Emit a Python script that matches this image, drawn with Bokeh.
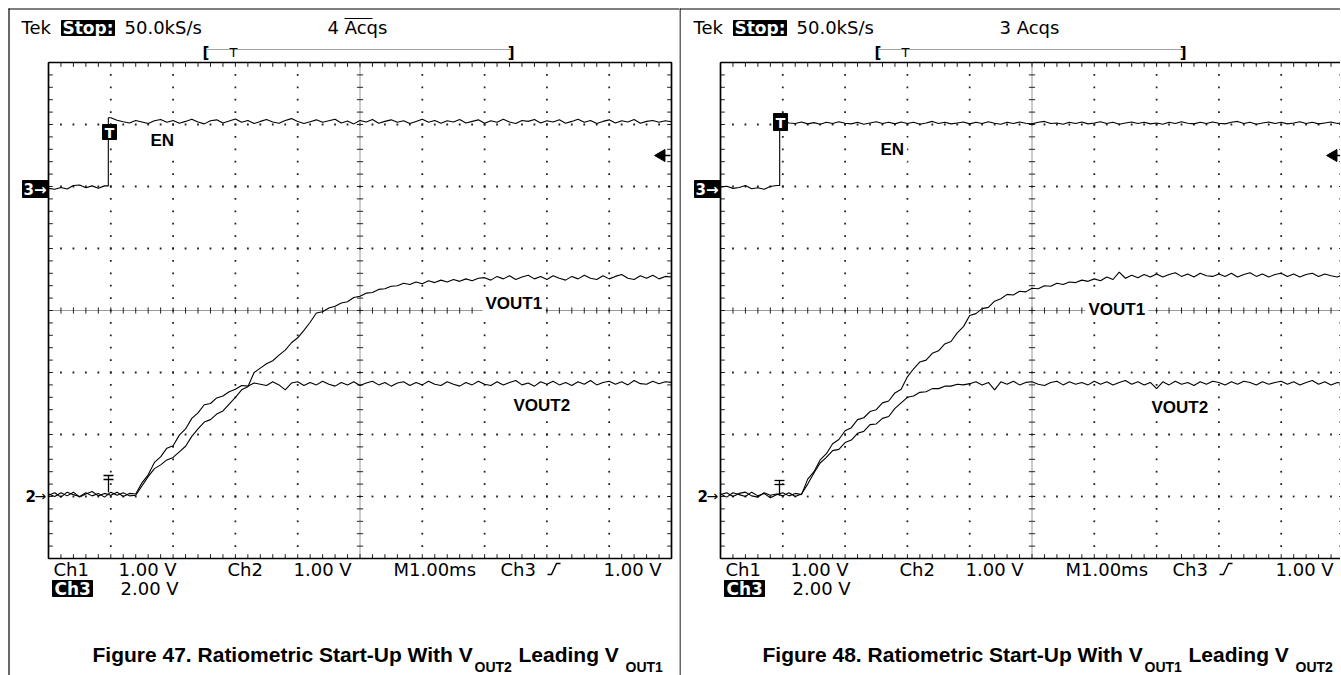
import numpy as np
from bokeh.plotting import figure
from bokeh.models import Range1d, Label
from bokeh.layouts import row
from bokeh.embed import file_html
from bokeh.resources import INLINE

# ---------------- data ----------------
# horizontal: 10 divisions x 1.00 ms/div, samples every 0.1 ms
time_ms = [round(0.1 * i, 1) for i in range(101)]

# vertical settings shown on the scope
ch12_volts_per_div = 1.0      # Ch1 / Ch2 (VOUT1 / VOUT2)
ch3_volts_per_div = 2.0       # Ch3 (EN)
ch12_ground_div = -2.98       # "2->" marker
ch3_ground_div = 2.0          # "3->" marker
ch3_trigger_level_v = 1.0     # "Ch3 _/ 1.00 V"

# ---- Figure 47 : VOUT2 leading VOUT1 ----
fig47_en_step_ms = 0.96
fig47_en_low = [-0.06, -0.09, -0.03, -0.08, 0.03, 0.05, -0.04, 0.02, -0.06, 0.02]
fig47_en_high = [
    2.22, 2.14, 2.09, 2.05, 2.13, 2.08, 2.03, 2.12, 2.16, 2.07,
    2.13, 2.04, 2.10, 2.17, 2.08, 2.02, 2.12, 2.15, 2.05, 2.11,
    2.18, 2.07, 2.13, 2.03, 2.10, 2.16, 2.08, 2.04, 2.13, 2.19,
    2.10, 2.03, 2.09, 2.15, 2.07, 2.12, 2.17, 2.05, 2.11, 2.02,
    2.13, 2.08, 2.16, 2.04, 2.10, 2.15, 2.07, 2.12, 2.03, 2.10,
    2.17, 2.07, 2.13, 2.04, 2.12, 2.08, 2.16, 2.05, 2.10, 2.15,
    2.04, 2.12, 2.07, 2.17, 2.08, 2.03, 2.13, 2.10, 2.16, 2.05,
    2.12, 2.08, 2.15, 2.04, 2.10, 2.17, 2.07, 2.13, 2.03, 2.10,
    2.15, 2.05, 2.12, 2.08, 2.16, 2.04, 2.10, 2.13, 2.07, 2.12, 2.09]
fig47_vout1 = [
    0.00, 0.04, -0.03, 0.05, 0.01, -0.02, 0.04, -0.01, 0.03, -0.03,
    0.05, 0.00, 0.04, -0.01, 0.00, 0.15, 0.30, 0.43, 0.49, 0.57,
    0.61, 0.70, 0.79, 0.95, 1.07, 1.18, 1.22, 1.31, 1.36, 1.47,
    1.58, 1.70, 1.75, 1.98, 2.05, 2.12, 2.17, 2.26, 2.34, 2.46,
    2.54, 2.66, 2.79, 2.94, 2.96, 3.02, 3.05, 3.10, 3.12, 3.19,
    3.21, 3.26, 3.27, 3.32, 3.33, 3.37, 3.38, 3.42, 3.40, 3.44,
    3.41, 3.46, 3.43, 3.47, 3.44, 3.48, 3.45, 3.49, 3.46, 3.50,
    3.51, 3.47, 3.53, 3.49, 3.54, 3.48, 3.52, 3.55, 3.49, 3.53,
    3.48, 3.54, 3.50, 3.47, 3.53, 3.49, 3.55, 3.50, 3.48, 3.54,
    3.49, 3.53, 3.56, 3.50, 3.48, 3.54, 3.50, 3.55, 3.49, 3.53, 3.52]
fig47_vout2 = [
    0.02, -0.02, 0.04, -0.01, 0.05, -0.03, 0.02, 0.06, -0.01, 0.03,
    0.00, 0.05, -0.02, 0.03, 0.02, 0.20, 0.33, 0.53, 0.62, 0.76,
    0.80, 0.97, 1.07, 1.24, 1.33, 1.46, 1.48, 1.57, 1.60, 1.67,
    1.71, 1.77, 1.76, 1.81, 1.79, 1.77, 1.83, 1.78, 1.70, 1.81,
    1.83, 1.77, 1.82, 1.78, 1.84, 1.79, 1.76, 1.82, 1.78, 1.83,
    1.77, 1.81, 1.84, 1.78, 1.82, 1.76, 1.81, 1.83, 1.77, 1.82,
    1.78, 1.84, 1.79, 1.77, 1.83, 1.79, 1.76, 1.82, 1.78, 1.84,
    1.79, 1.77, 1.83, 1.78, 1.82, 1.85, 1.78, 1.81, 1.76, 1.83,
    1.79, 1.84, 1.78, 1.82, 1.77, 1.83, 1.79, 1.85, 1.78, 1.82,
    1.84, 1.79, 1.83, 1.78, 1.85, 1.80, 1.79, 1.84, 1.80, 1.83, 1.82]

# ---- Figure 48 : VOUT1 leading VOUT2 ----
fig48_en_step_ms = 0.95
fig48_en_low = [-0.02, 0.01, -0.06, -0.03, 0.03, -0.07, -0.04, -0.09, 0.00, 0.03]
fig48_en_high = [
    2.12, 2.05, 2.03, 2.08, 2.02, 2.06, 2.01, 2.07, 2.03, 2.09,
    2.04, 2.02, 2.07, 2.01, 2.05, 2.09, 2.03, 2.07, 2.02, 2.08,
    2.03, 2.07, 2.01, 2.05, 2.10, 2.03, 2.07, 2.02, 2.05, 2.08,
    2.02, 2.07, 2.03, 2.09, 2.04, 2.01, 2.07, 2.03, 2.08, 2.04,
    2.02, 2.07, 2.10, 2.03, 2.05, 2.01, 2.07, 2.03, 2.08, 2.02,
    2.05, 2.09, 2.03, 2.07, 2.01, 2.05, 2.08, 2.03, 2.07, 2.02,
    2.05, 2.01, 2.07, 2.03, 2.09, 2.04, 2.02, 2.07, 2.03, 2.08,
    2.04, 2.02, 2.07, 2.10, 2.03, 2.07, 2.01, 2.05, 2.08, 2.03,
    2.07, 2.02, 2.05, 2.09, 2.03, 2.07, 2.02, 2.05, 2.08, 2.03, 2.06]
fig48_vout1 = [
    0.02, -0.03, 0.04, 0.01, -0.02, 0.05, -0.01, 0.03, -0.04, 0.01,
    0.04, -0.01, 0.03, 0.01, 0.26, 0.38, 0.57, 0.67, 0.83, 0.90,
    1.04, 1.09, 1.22, 1.25, 1.35, 1.38, 1.49, 1.52, 1.65, 1.71,
    1.91, 2.04, 2.15, 2.18, 2.29, 2.33, 2.44, 2.48, 2.62, 2.72,
    2.90, 2.93, 3.01, 3.03, 3.13, 3.17, 3.24, 3.23, 3.29, 3.28,
    3.34, 3.33, 3.38, 3.37, 3.42, 3.40, 3.44, 3.43, 3.47, 3.45,
    3.49, 3.46, 3.52, 3.48, 3.60, 3.50, 3.55, 3.51, 3.56, 3.52,
    3.57, 3.52, 3.56, 3.59, 3.53, 3.57, 3.52, 3.58, 3.54, 3.53,
    3.57, 3.53, 3.58, 3.52, 3.56, 3.59, 3.53, 3.57, 3.52, 3.56,
    3.58, 3.53, 3.57, 3.52, 3.56, 3.58, 3.53, 3.57, 3.54, 3.52, 3.56]
fig48_vout2 = [
    0.01, 0.04, -0.02, 0.03, 0.05, -0.01, -0.03, 0.04, 0.00, 0.02,
    -0.01, 0.04, -0.02, 0.02, 0.18, 0.36, 0.52, 0.61, 0.72, 0.74,
    0.85, 0.89, 1.00, 1.03, 1.14, 1.15, 1.24, 1.27, 1.40, 1.49,
    1.58, 1.60, 1.66, 1.67, 1.72, 1.72, 1.76, 1.76, 1.79, 1.78,
    1.80, 1.83, 1.78, 1.82, 1.70, 1.83, 1.79, 1.84, 1.78, 1.82,
    1.83, 1.79, 1.77, 1.82, 1.84, 1.78, 1.83, 1.79, 1.82, 1.78,
    1.84, 1.79, 1.83, 1.78, 1.82, 1.85, 1.79, 1.83, 1.78, 1.82,
    1.72, 1.83, 1.78, 1.84, 1.79, 1.82, 1.77, 1.83, 1.79, 1.84,
    1.82, 1.78, 1.83, 1.79, 1.84, 1.82, 1.78, 1.83, 1.79, 1.82,
    1.84, 1.79, 1.83, 1.78, 1.82, 1.85, 1.79, 1.83, 1.78, 1.82, 1.80]

scope_header = ["Tek", "Stop:", "50.0kS/s"]
scope_footer_row1 = ["Ch1", "1.00 V", "Ch2", "1.00 V", "M1.00ms", "Ch3", "1.00 V"]
scope_footer_row2 = ["Ch3", "2.00 V"]

# ---------------- layout constants (page pixels) ----------------
DX = 62.3          # px per horizontal division
DY = 62.0          # px per vertical division
CY = 310.0         # page y of centre graticule line
TOP = 0
H = 675
TEK = "DejaVu Sans"
ARIAL = "Liberation Sans"


def en_series(low, high, step):
    t = time_ms[:len(low)] + [step, step] + time_ms[len(low):len(low) + len(high)]
    v = low + [low[-1], high[0]] + high
    return t, v


def build(gx0, left, right, en_t, en_v, v1, v2, spec):
    X = lambda px: (px - gx0) / DX
    Y = lambda py: (CY - py) / DY
    R = lambda rel: X(gx0 + rel)
    p = figure(width=right - left, height=H,
               x_range=Range1d(X(left), X(right)), y_range=Range1d(Y(TOP + H), Y(TOP)),
               output_backend="svg", toolbar_location=None, min_border=0,
               x_axis_location=None, y_axis_location=None, title=None,
               outline_line_color=None, background_fill_color="white",
               border_fill_color="white")
    p.xgrid.visible = False
    p.ygrid.visible = False
    y0, y1 = Y(TOP + H), Y(TOP)
    p.extra_y_ranges = {
        "ch12": Range1d((y0 - ch12_ground_div) * ch12_volts_per_div,
                        (y1 - ch12_ground_div) * ch12_volts_per_div),
        "ch3": Range1d((y0 - ch3_ground_div) * ch3_volts_per_div,
                       (y1 - ch3_ground_div) * ch3_volts_per_div),
    }

    # ---- graticule ----
    ys = np.round(np.arange(-4, 4.001, 0.2), 3)
    xs = np.round(np.arange(0, 10.001, 0.2), 3)
    dx, dy = [], []
    for k in range(1, 10):
        if k != 5:
            dx += [k] * (len(ys) - 2)
            dy += list(ys[1:-1])
    for j in range(-3, 4):
        if j != 0:
            dx += list(xs[1:-1])
            dy += [j] * (len(xs) - 2)
    p.scatter(dx, dy, marker="square", size=1.8, fill_color="#222", line_color=None)
    p.line([5, 5], [-4, 4], line_dash="1 1", color="#333", line_width=1)
    p.line([0, 10], [0, 0], line_dash="1 1", color="#333", line_width=1)
    tk = 0.05
    p.segment(x0=[5 - tk] * len(ys), y0=ys, x1=[5 + tk] * len(ys), y1=ys, color="#222", line_width=1)
    p.segment(x0=xs, y0=[-tk] * len(xs), x1=xs, y1=[tk] * len(xs), color="#222", line_width=1)
    bt = 0.07
    p.segment(x0=xs, y0=[4] * len(xs), x1=xs, y1=[4 - bt] * len(xs), color="#222", line_width=1)
    p.segment(x0=xs, y0=[-4] * len(xs), x1=xs, y1=[-4 + bt] * len(xs), color="#222", line_width=1)
    p.segment(x0=[0] * len(ys), y0=ys, x1=[bt] * len(ys), y1=ys, color="#222", line_width=1)
    p.segment(x0=[10] * len(ys), y0=ys, x1=[10 - bt] * len(ys), y1=ys, color="#222", line_width=1)
    p.line([0, 10, 10, 0, 0], [4, 4, -4, -4, 4], color="black", line_width=1.7)

    # ---- traces ----
    p.line(time_ms, v2, y_range_name="ch12", color="black", line_width=1.1)
    p.line(time_ms, v1, y_range_name="ch12", color="black", line_width=1.1)
    p.line(en_t, en_v, y_range_name="ch3", color="black", line_width=1.1)

    # ---- page frame lines ----
    for seg in spec["frame"]:
        (ax, ay), (bx, by) = seg
        p.line([X(ax), X(bx)], [Y(ay), Y(by)], color="black", line_width=1.2)

    def lab(x, y, text, size, bold=False, color="black", font=TEK, align="left",
            bg=None, pad=0):
        p.add_layout(Label(x=x, y=y, text=text, text_font=font,
                           text_font_size=f"{size}px",
                           text_font_style="bold" if bold else "normal",
                           text_color=color, text_align=align, text_baseline="middle",
                           background_fill_color=bg, padding=pad))

    def box(r0, r1, t, b):
        p.quad(left=[R(r0)], right=[R(r1)], top=[Y(t)], bottom=[Y(b)], color="black")

    # header (y = visual centre of the text)
    lab(R(-27), Y(27), scope_header[0], 18)
    box(13, 66, 20, 35)
    lab(R(14), Y(27.5), scope_header[1], 17, bold=True, color="white")
    lab(R(76), Y(27), scope_header[2], 18)
    lab(R(279), Y(27), spec["acqs"], 18)
    if spec["overline"]:
        p.line([R(296), R(324)], [Y(18), Y(18)], color="black", line_width=1)
    # record-view bracket
    lab(R(154), Y(52), "[", 15, bold=True)
    p.line([R(159), R(463)], [Y(49), Y(49)], line_dash="1 1", color="#444", line_width=1)
    lab(R(185), Y(51.5), "T", 13, align="center")
    lab(R(466), Y(52), "]", 15, bold=True, align="right")

    # footer rows
    for txt, rel in zip(scope_footer_row1, [5, 70, 179, 245, 345, 452, 555]):
        lab(R(rel), Y(569), txt, 18)
    p.line([R(499), R(503), R(508), R(512)], [Y(574), Y(574), Y(563), Y(563)],
           color="black", line_width=1.5)
    box(4, 44, 580, 596)
    lab(R(6), Y(588.5), scope_footer_row2[0], 17, bold=True, color="white")
    lab(R(72), Y(588), scope_footer_row2[1], 18)

    # channel ground markers
    box(-26, 0, 180, 197)
    lab(R(-25), Y(189), "3\u2192", 15, bold=True, color="white")
    lab(R(-23), Y(495.5), "2", 15, bold=True)
    lab(R(-14), Y(495), "\u2192", 14)

    # trigger box on EN edge
    tb = spec["tbox"]
    box(tb[0], tb[1], tb[2], tb[3])
    lab(R((tb[0] + tb[1]) / 2), Y((tb[2] + tb[3]) / 2 + 0.5), "T", 14, bold=True,
        color="white", align="center")
    # trigger position marker at VOUT ground
    tx, ya, yb, yc = spec["tmark"]
    p.segment(x0=[R(tx - 5), R(tx - 5), R(tx)], y0=[Y(ya), Y(yb), Y(ya)],
              x1=[R(tx + 5), R(tx + 5), R(tx)], y1=[Y(ya), Y(yb), Y(yc)],
              color="black", line_width=1.3)
    # Ch3 trigger level arrow at right edge
    p.scatter([R(613)], [ch3_trigger_level_v], y_range_name="ch3", marker="triangle",
              angle=np.pi / 2, size=12, fill_color="black", line_color="black")
    p.line([R(615), R(622)], [ch3_trigger_level_v] * 2, y_range_name="ch3",
           color="black", line_width=1.5)

    # trace labels
    for txt, (px, py) in spec["labels"]:
        lab(X(px), Y(py), txt, 17, bold=True, font=ARIAL, bg="white", pad=3)

    # caption
    for txt, px, size, py in spec["caption"]:
        lab(X(px), Y(py), txt, size, bold=True, font=ARIAL)
    return p


t47, e47 = en_series(fig47_en_low, fig47_en_high, fig47_en_step_ms)
t48, e48 = en_series(fig48_en_low, fig48_en_high, fig48_en_step_ms)

spec47 = dict(
    frame=[((8, 8.5), (679, 8.5)), ((8.5, 8), (8.5, 675))],
    acqs="4 Acqs", overline=True,
    tbox=(54, 68, 124, 139), tmark=(60, 475, 479, 492),
    labels=[("EN", (147, 140)), ("VOUT1", (482, 303)), ("VOUT2", (510, 405))],
    caption=[("Figure 47. Ratiometric Start-Up With V", 92, 21, 654),
             ("OUT2", 474, 14, 666),
             ("Leading V", 518, 21, 654),
             ("OUT1", 625, 14, 666)],
)
spec48 = dict(
    frame=[((679, 8.5), (1340, 8.5)), ((679.5, 8), (679.5, 675))],
    acqs="3 Acqs", overline=False,
    tbox=(53, 67, 113, 130), tmark=(59, 480, 484, 495),
    labels=[("EN", (877, 149)), ("VOUT1", (1085, 309)), ("VOUT2", (1148, 407))],
    caption=[("Figure 48. Ratiometric Start-Up With V", 762, 21, 654),
             ("OUT1", 1144, 14, 666),
             ("Leading V", 1188, 21, 654),
             ("OUT2", 1295, 14, 666)],
)

p47 = build(48, 0, 679, t47, e47, fig47_vout1, fig47_vout2, spec47)
p48 = build(720, 679, 1340, t48, e48, fig48_vout1, fig48_vout2, spec48)

layout = row(p47, p48)
open("out.html", "w").write(file_html(layout, INLINE))
